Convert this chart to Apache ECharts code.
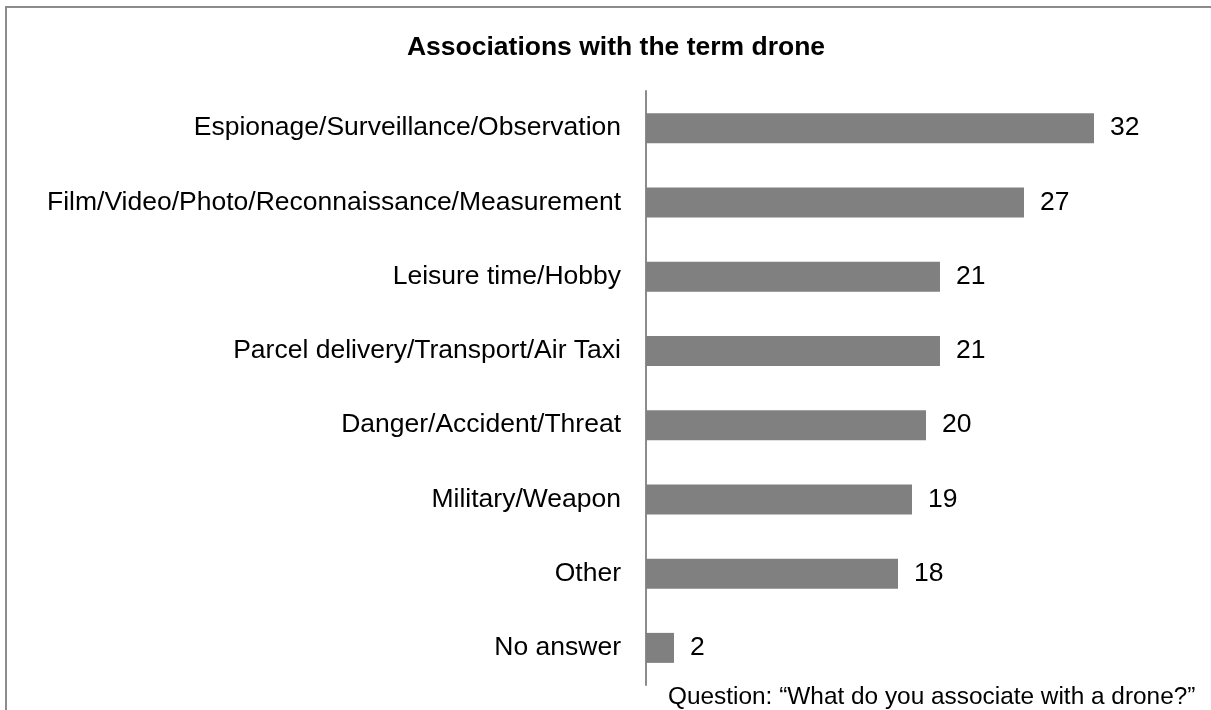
<!DOCTYPE html>
<html>
<head>
<meta charset="utf-8">
<script src="https://cdn.jsdelivr.net/npm/echarts@6/dist/echarts.min.js"></script>
<style>
  html, body { margin: 0; padding: 0; background: #fff; }
  #chart { width: 1211px; height: 710px; }
</style>
</head>
<body>
<div id="chart"></div>
<script>
// Survey answers: what people associate with a drone (percent of respondents)
const categories = [
  'Espionage/Surveillance/Observation',
  'Film/Video/Photo/Reconnaissance/Measurement',
  'Leisure time/Hobby',
  'Parcel delivery/Transport/Air Taxi',
  'Danger/Accident/Threat',
  'Military/Weapon',
  'Other',
  'No answer'
];
const values = [32, 27, 21, 21, 20, 19, 18, 2];

const titleText = 'Associations with the term drone';
const noteText = 'Question: \u201CWhat do you associate with a drone?\u201D';

const chart = echarts.init(document.getElementById('chart'));
const font = '"Liberation Sans", Arial, sans-serif';

chart.setOption({
  animation: false,
  backgroundColor: '#ffffff',
  title: {
    text: titleText,
    left: 611,
    top: 29,
    textAlign: 'center',
    textStyle: { fontFamily: font, fontSize: 26.5, fontWeight: 'bold', color: '#000' }
  },
  graphic: [
    {
      type: 'rect',
      shape: { x: 6, y: 7, width: 1230, height: 720 },
      style: { fill: 'none', stroke: '#8c8c8c', lineWidth: 2 },
      silent: true
    },
    {
      type: 'text',
      x: 668,
      y: 697,
      style: {
        text: noteText,
        font: '24.4px ' + font,
        fill: '#000',
        verticalAlign: 'middle'
      }
    }
  ],
  grid: { left: 646, top: 91, width: 560, bottom: 25, containLabel: false },
  xAxis: {
    type: 'value',
    min: 0,
    max: 40,
    show: false
  },
  yAxis: {
    type: 'category',
    data: categories,
    inverse: true,
    axisLine: { show: true, lineStyle: { color: '#8c8c8c', width: 2 } },
    axisTick: { show: false },
    axisLabel: { fontFamily: font, fontSize: 26.5, color: '#000', margin: 25 },
    splitLine: { show: false }
  },
  series: [{
    type: 'bar',
    data: values,
    barWidth: 30,
    itemStyle: { color: '#808080' },
    label: {
      show: true,
      position: 'right',
      distance: 16,
      fontFamily: font,
      fontSize: 26.5,
      color: '#000'
    }
  }]
});
</script>
</body>
</html>
